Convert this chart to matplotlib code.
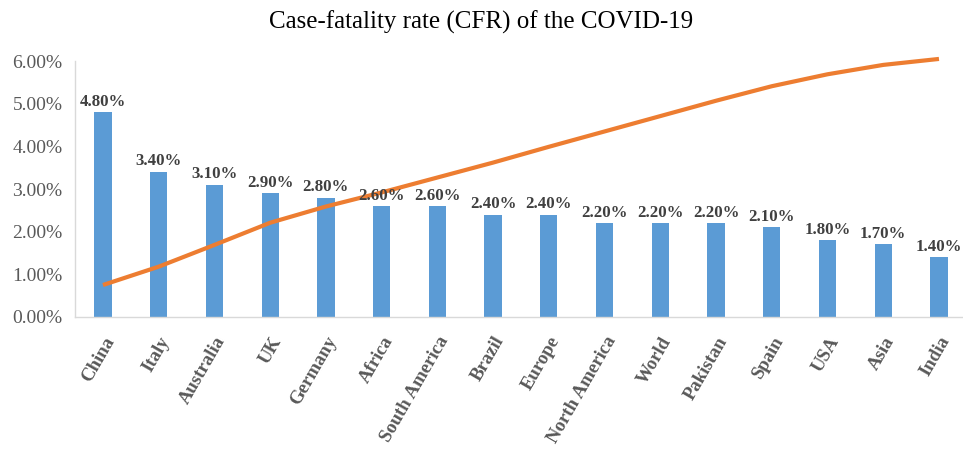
import matplotlib.pyplot as plt
import numpy as np

# Data
countries = ["China", "Italy", "Australia", "UK", "Germany", "Africa", "South America",
             "Brazil", "Europe", "North America", "World", "Pakistan", "Spain", "USA",
             "Asia", "India"]
cfr = [4.8, 3.4, 3.1, 2.9, 2.8, 2.6, 2.6, 2.4, 2.4, 2.2, 2.2, 2.2, 2.1, 1.8, 1.7, 1.4]
trend = [0.75, 1.18, 1.69, 2.21, 2.59, 2.92, 3.27, 3.62, 3.99, 4.35, 4.71, 5.07,
         5.41, 5.69, 5.91, 6.05]

plt.rcParams['font.family'] = ['Liberation Serif', 'DejaVu Serif']

fig = plt.figure(figsize=(9.63, 4.49), dpi=100)
ax = fig.add_axes([0.078, 0.294, 0.926, 0.570])

x = np.arange(len(countries))
ax.bar(x, cfr, width=0.31, color='#5B9BD5', zorder=2)
ax.plot(x, trend, color='#ED7D31', lw=3, solid_capstyle='butt', zorder=3, clip_on=False)

# value labels above bars
for xi, v in zip(x, cfr):
    ax.text(xi, v + 0.06, f"{v:.2f}%", ha='center', va='bottom',
            fontsize=12.2, fontweight='bold', color='#404040', zorder=4)

ax.set_xlim(-0.5, len(countries) - 0.5)
ax.set_ylim(0, 6)
ax.set_yticks(np.arange(0, 7, 1))
ax.set_yticklabels([f"{t:.2f}%" for t in range(7)], fontsize=14, color='#595959')
ax.set_xticks(x)
ax.set_xticklabels(countries, rotation=60, ha='right', rotation_mode='anchor',
                   fontsize=13.5, fontweight='bold', color='#595959')
ax.tick_params(axis='both', length=0)
ax.tick_params(axis='y', pad=9)
ax.tick_params(axis='x', pad=12)

for side in ['top', 'right']:
    ax.spines[side].set_visible(False)
for side in ['left', 'bottom']:
    ax.spines[side].set_color('#D9D9D9')
    ax.spines[side].set_linewidth(1)

fig.text(0.5, 0.95, "Case-fatality rate (CFR) of the COVID-19", ha='center', va='center',
         fontsize=18, color='#000000')

fig.savefig('out.png', dpi=100)
